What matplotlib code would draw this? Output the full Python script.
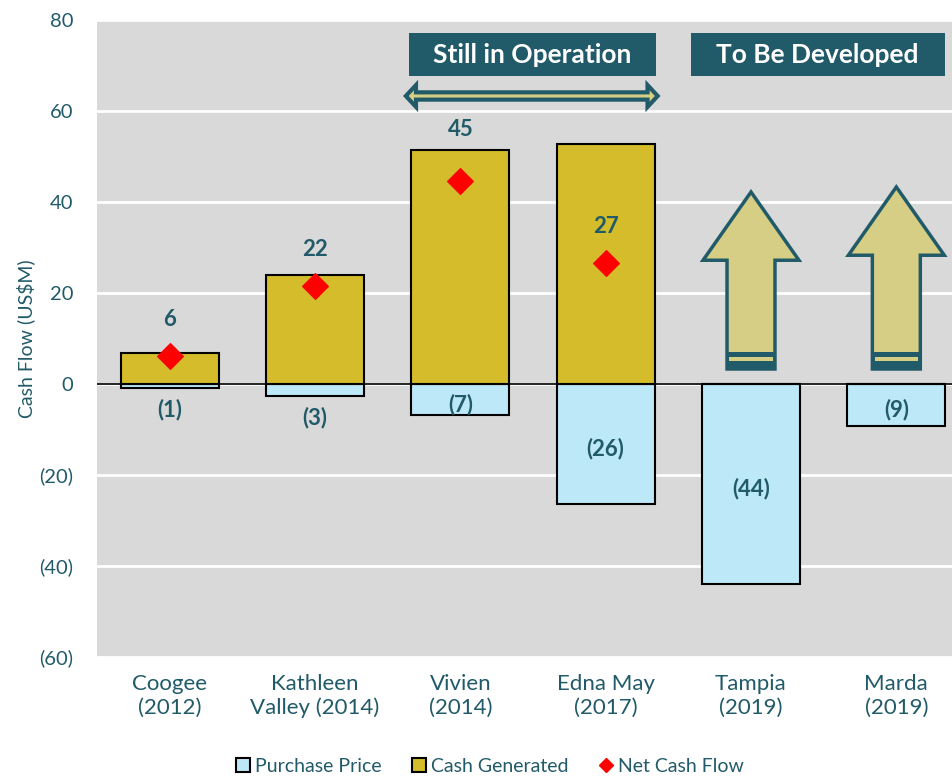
import numpy as np
import matplotlib.pyplot as plt
from matplotlib.patches import Polygon, Rectangle
from matplotlib.lines import Line2D

plt.rcParams['font.family'] = ['Lato', 'DejaVu Sans']

# данные
projects = ['Coogee\n(2012)', 'Kathleen\nValley (2014)', 'Vivien\n(2014)',
            'Edna May\n(2017)', 'Tampia\n(2019)', 'Marda\n(2019)']
purchase = [-0.8, -2.6, -6.8, -26.3, -44.0, -9.2]
cash = [6.8, 24.0, 51.4, 52.8, 0, 0]
net = [6.2, 21.6, 44.6, 26.6]
yticks = [80, 60, 40, 20, 0, -20, -40, -60]
ytick_labels = ['80', '60', '40', '20', '0', '(20)', '(40)', '(60)']

teal = '#215A68'
gold = '#D4BC2A'
blue = '#BDE8F8'
arrow_fill = '#D6CE85'

fig = plt.figure(figsize=(9.52, 7.76), dpi=100)
ax = fig.add_axes([97 / 952, 1 - 657 / 776, 872 / 952, 637 / 776])
ax.set_facecolor('#D9D9D9')

x = np.arange(len(projects))
w = 0.675

ax.bar(x, purchase, w, color=blue, edgecolor='black', linewidth=1.5, zorder=3)
ax.bar(x, cash, w, color=gold, edgecolor='black', linewidth=1.5, zorder=3)
ax.axhline(0, color='black', lw=1.2, zorder=4)
ax.scatter(x[:len(net)], net, marker='D', s=170, color='#FF0000', zorder=5)

# подписи
for i, v in enumerate(net):
    y = v + 8
    if abs(y - cash[i]) < 5:
        y = cash[i] + 4.5
    ax.text(i, y, f'{v:.0f}', ha='center', va='center', fontsize=16,
            fontweight='bold', color=teal, zorder=6)
for i, v in enumerate(purchase):
    y = v / 2 - 1 if v < -5 else v - 4.8
    ax.text(i, y, f'({-v:.0f})', ha='center', va='center', fontsize=16,
            fontweight='bold', color=teal, zorder=6)

# стрелки вверх для будущих проектов
for i, tip in [(4, 42.2), (5, 43.3)]:
    base = tip - 15
    pts = [(i - 0.165, 3.3), (i - 0.165, base), (i - 0.33, base), (i, tip),
           (i + 0.33, base), (i + 0.165, base), (i + 0.165, 3.3)]
    ax.add_patch(Polygon(pts, closed=True, facecolor=arrow_fill, edgecolor=teal,
                         lw=2.5, zorder=4, joinstyle='miter'))
    ax.add_patch(Rectangle((i - 0.165, 3.3), 0.33, 3.7, facecolor=teal,
                           edgecolor='none', zorder=4))
    ax.add_patch(Rectangle((i - 0.15, 5.1), 0.30, 0.8, facecolor=arrow_fill,
                           edgecolor='none', zorder=4))

# двойная стрелка
x0, x1, yc = 1.625, 3.358, 63.3
hh, sh, hl = 2.4, 0.8, 0.07
pts = [(x0, yc), (x0 + hl, yc + hh), (x0 + hl, yc + sh), (x1 - hl, yc + sh),
       (x1 - hl, yc + hh), (x1, yc), (x1 - hl, yc - hh), (x1 - hl, yc - sh),
       (x0 + hl, yc - sh), (x0 + hl, yc - hh)]
ax.add_patch(Polygon(pts, closed=True, facecolor=arrow_fill, edgecolor=teal,
                     lw=3, zorder=4))

# плашки
for (bx0, bx1), txt in [((1.646, 3.345), 'Still in Operation'),
                        ((3.585, 5.332), 'To Be Developed')]:
    ax.add_patch(Rectangle((bx0, 67.6), bx1 - bx0, 9.5, facecolor=teal,
                           edgecolor='none', zorder=4))
    ax.text((bx0 + bx1) / 2, 72.35, txt, ha='center', va='center', fontsize=19,
            fontweight='bold', color='white', zorder=5)

ax.set_xlim(-0.5, 5.5)
ax.set_ylim(-60, 80)
ax.set_yticks(yticks)
ax.set_yticklabels(ytick_labels)
ax.set_xticks(x)
ax.set_xticklabels(projects)
ax.grid(axis='y', color='white', lw=2, zorder=0)
ax.set_axisbelow(True)
ax.tick_params(length=0, labelsize=16, colors=teal)
ax.tick_params(axis='x', pad=12)
ax.tick_params(axis='y', pad=17, labelsize=14.5)
for lbl in ax.get_xticklabels():
    lbl.set_linespacing(1.25)
for s in ax.spines.values():
    s.set_visible(False)
ax.set_ylabel('Cash Flow (US$M)', fontsize=14, color=teal)
ax.yaxis.set_label_coords(-62 / 872, 0.5)

handles = [Rectangle((0, 0), 1, 1, facecolor=blue, edgecolor='black', lw=1.5),
           Rectangle((0, 0), 1, 1, facecolor=gold, edgecolor='black', lw=1.5),
           Line2D([], [], marker='D', color='#FF0000', ls='none', markersize=7)]
leg = fig.legend(handles, ['Purchase Price', 'Cash Generated', 'Net Cash Flow'],
                 loc='center', bbox_to_anchor=(490 / 952, 1 - 766 / 776), ncol=3,
                 frameon=False, fontsize=14, handlelength=0.7, handleheight=0.7,
                 handletextpad=0.25, columnspacing=1.6)
for t in leg.get_texts():
    t.set_color(teal)

fig.savefig('out.png', dpi=100)
